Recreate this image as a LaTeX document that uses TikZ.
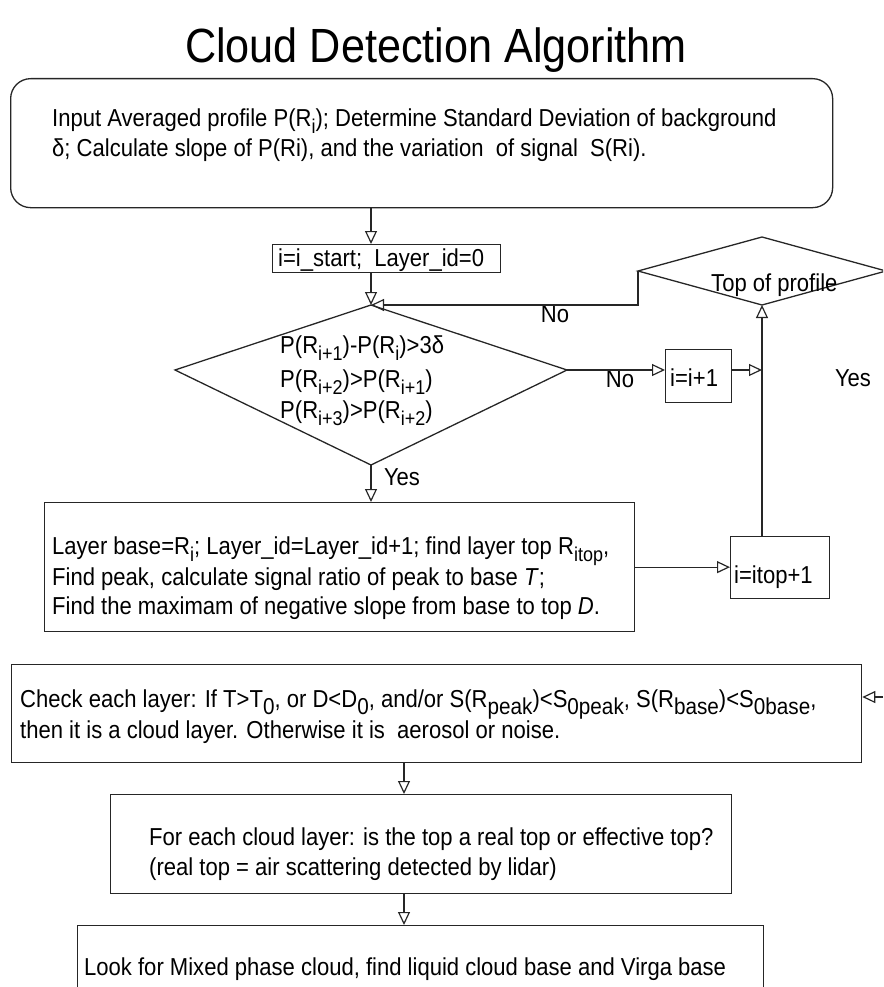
\documentclass[tikz,border=0pt]{standalone}
\usepackage{fontspec}
\setmainfont{Liberation Sans}[FakeStretch=0.9]
\usetikzlibrary{arrows.meta}
\newcommand\sbs[1]{\raisebox{-7pt}{\fontsize{20}{20}\selectfont #1}}
\newcommand\sbb[1]{\raisebox{-7pt}{\fontsize{23}{23}\selectfont #1}}
\begin{document}
\begin{tikzpicture}[x=1pt,y=-1pt,
  line/.style={line width=1.3pt, draw=black!85},
  arr/.style={line, -{Triangle[open,length=13pt,width=12pt,line width=1.2pt]}},
  box/.style={line, rectangle, inner sep=0pt, anchor=north west},
  txt/.style={anchor=base west, inner sep=0pt, font=\fontsize{24.5}{28}\selectfont},
  lbl/.style={inner sep=0pt, font=\fontsize{24.5}{28}\selectfont}]
\path[use as bounding box, clip] (0,0) rectangle (883,987);

% title
\node[inner sep=0pt, font=\fontsize{48}{54}\selectfont] (title) at (436,50) {Cloud Detection Algorithm};

% boxes
\node[box, rounded corners=20pt, minimum width=822pt, minimum height=129pt] (inp) at (10,78) {};
\node[box, minimum width=228pt, minimum height=28pt] (init) at (272,244) {};
\node[box, minimum width=66pt, minimum height=53pt] (iinc) at (665,349) {};
\node[box, minimum width=590pt, minimum height=129pt] (layer) at (44,502) {};
\node[box, minimum width=99pt, minimum height=62pt] (itop) at (730,536) {};
\node[box, minimum width=850pt, minimum height=98pt] (check) at (11,664) {};
\node[box, minimum width=621pt, minimum height=99pt] (foreach) at (110,794) {};
\node[box, minimum width=686pt, minimum height=90pt] (look) at (77,925) {};

% decision diamonds
\coordinate (dT) at (371,305);
\coordinate (dL) at (175,370);
\coordinate (dR) at (567,370);
\coordinate (dB) at (371,465);
\draw[line] (dT) -- (dR) -- (dB) -- (dL) -- cycle;
\coordinate (tT) at (762,237);
\coordinate (tL) at (638,271);
\coordinate (tR) at (886,271);
\coordinate (tB) at (762,305);
\draw[line] (tT) -- (tR) -- (tB) -- (tL) -- cycle;

% texts
\node[txt] (t1a) at (52,127) {Input Averaged profile P(R\sbs{i}); Determine Standard Deviation of background};
\node[txt] (t1b) at (52,157) {δ; Calculate slope of P(Ri), and the variation\ \ of signal\ \ S(Ri).};
\node[txt] (t2) at (278,266) {i=i\_start;\ \ Layer\_id=0};
\node[txt] (t3a) at (280,353) {P(R\sbs{i+1})-P(R\sbs{i})>3δ};
\node[txt] (t3b) at (280,387) {P(R\sbs{i+2})>P(R\sbs{i+1})};
\node[txt] (t3c) at (280,418) {P(R\sbs{i+3})>P(R\sbs{i+2})};
\node[txt] (t4) at (711,291) {Top of profile};
\node[txt] (t5) at (670,386) {i=i+1};
\node[txt] (t6a) at (52,554) {Layer base=R\sbs{i}; Layer\_id=Layer\_id+1; find layer top R\sbs{itop},};
\node[txt] (t6b) at (52,585) {Find peak, calculate signal ratio of peak to base \textit{T};};
\node[txt] (t6c) at (52,614) {Find the maximam of negative slope from base to top \textit{D}.};
\node[txt] (t7) at (734,583) {i=itop+1};
\node[txt] (t8a) at (20,707) {Check each layer: If T>T\sbb{0}, or D<D\sbb{0}, and/or S(R\sbb{peak})<S\sbb{0peak}, S(R\sbb{base})<S\sbb{0base},};
\node[txt] (t8b) at (20,738) {then it is a cloud layer. Otherwise it is\ \ aerosol or noise.};
\node[txt] (t9a) at (149,845) {For each cloud layer: is the top a real top or effective top?};
\node[txt] (t9b) at (149,875) {(real top = air scattering detected by lidar)};
\node[txt] (t10) at (84,975) {Look for Mixed phase cloud, find liquid cloud base and Virga base};

% labels
\node[lbl] (no1) at (555,314) {No};
\node[lbl] (no2) at (620,379) {No};
\node[lbl] (yes1) at (402,477) {Yes};
\node[lbl] (yes2) at (853,378) {Yes};

% connectors
\coordinate (ax) at (404,0);
\coordinate (yesend) at (883,697);
\draw[arr] (inp.south -| dT) -- (init.north -| dT);
\draw[arr] (init.south -| dT) -- (dT);
\draw[arr] (tL) |- (dT);
\draw[arr] (dR) -- (iinc.west |- dR);
\draw[arr] (iinc.east |- dR) -- (dR -| tB);
\draw[arr] (dB) -- (layer.north -| dB);
\draw[arr] (layer.east) -- (itop.west |- layer.east);
\draw[arr] (itop.north -| tB) -- (tB);
\draw[arr] (yesend) -- (check.east |- yesend);
\draw[arr] (check.south -| ax) -- (foreach.north -| ax);
\draw[arr] (foreach.south -| ax) -- (look.north -| ax);
\end{tikzpicture}
\end{document}
